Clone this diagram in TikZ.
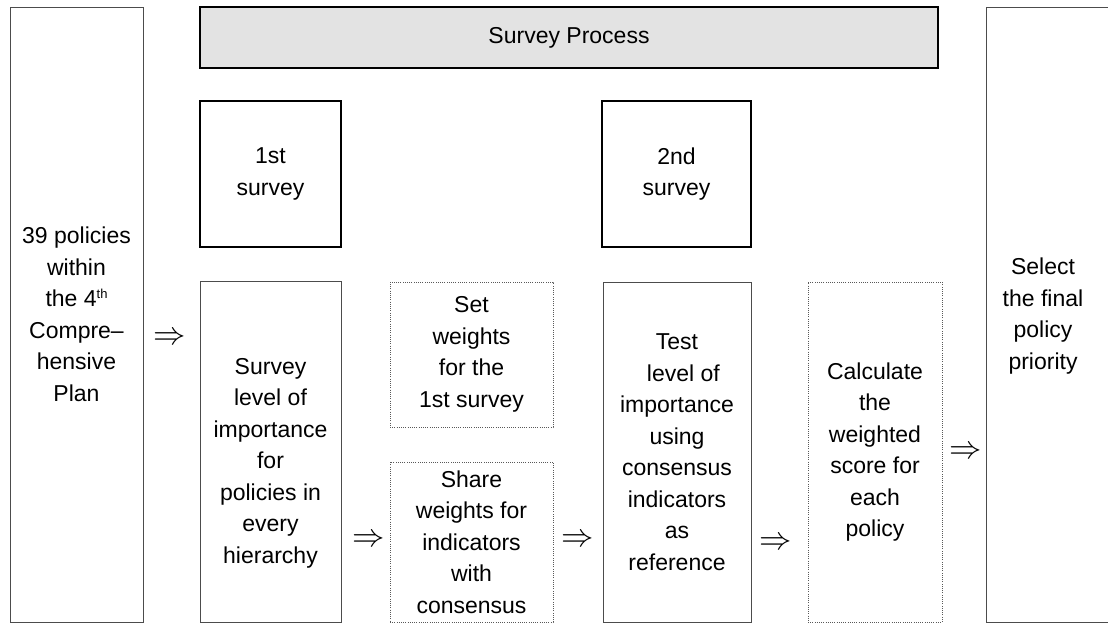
\documentclass[tikz,border=0pt]{standalone}
\usepackage{fontspec}
\setmainfont{Liberation Sans}
\begin{document}
\begin{tikzpicture}[x=1pt,y=-1pt,
  txt/.style={inner sep=0pt, outer sep=0pt, align=center, font=\fontsize{23}{31.5}\selectfont},
  thinbox/.style={txt, draw=black!70, line width=0.9pt},
  thickbox/.style={txt, draw=black, line width=2.2pt},
  dotbox/.style={txt, draw=black!65, line width=0.8pt, dash pattern=on 0.8pt off 1.4pt},
  arr/.style={inner sep=0pt, font=\fontsize{24}{24}\selectfont}]
\useasboundingbox (0,0) rectangle (1108,624);

\node[thinbox, minimum width=133pt, minimum height=615pt] (plan) at (76.5,314.5)
  {39 policies\\within\\the 4{\fontsize{13}{13}\selectfont\raisebox{8pt}{th}}\\Compre–\\hensive\\Plan};
\node[thickbox, fill=black!11, minimum width=738pt, minimum height=61pt] (head) at (569,37.5)
  {Survey Process};
\node[thickbox, minimum width=141pt, minimum height=146pt] (s1) at (270.5,174) {1st\\survey};
\node[thickbox, minimum width=149pt, minimum height=146pt] (s2) at (676.5,174) {2nd\\survey};
\node[thinbox, minimum width=141pt, minimum height=341pt] (lvl) at (270.5,451.5) {};
\node[txt] at (270.5,463) {Survey\\level of\\importance\\for\\policies in\\every\\hierarchy};
\node[dotbox, minimum width=163pt, minimum height=145pt] (set) at (471.5,354.5)
  {Set\\weights\\for the\\1st survey};
\node[dotbox, minimum width=163pt, minimum height=160pt] (share) at (471.5,542)
  {Share\\weights for\\indicators\\with\\consensus};
\node[thinbox, minimum width=148pt, minimum height=340pt] (test) at (677,452)
  {Test\\\ \ level of\\importance\\using\\consensus\\indicators\\as\\reference};
\node[dotbox, minimum width=134pt, minimum height=340pt] (calc) at (875,452)
  {Calculate\\the\\weighted\\score for\\each\\policy};
\node[thinbox, minimum width=130pt, minimum height=615pt, anchor=west] (sel) at (986,314.5) {};
\node[txt] at (1043,316) {Select\\the final\\policy\\priority};

\node[arr] (a1) at (170,339) {\scalebox{1.3}{$\Rightarrow$}};
\node[arr] (a2) at (369,541) {\scalebox{1.3}{$\Rightarrow$}};
\node[arr] (a3) at (578,541) {\scalebox{1.3}{$\Rightarrow$}};
\node[arr] (a4) at (776,544) {\scalebox{1.3}{$\Rightarrow$}};
\node[arr] (a5) at (966,453) {\scalebox{1.3}{$\Rightarrow$}};
\end{tikzpicture}
\end{document}
